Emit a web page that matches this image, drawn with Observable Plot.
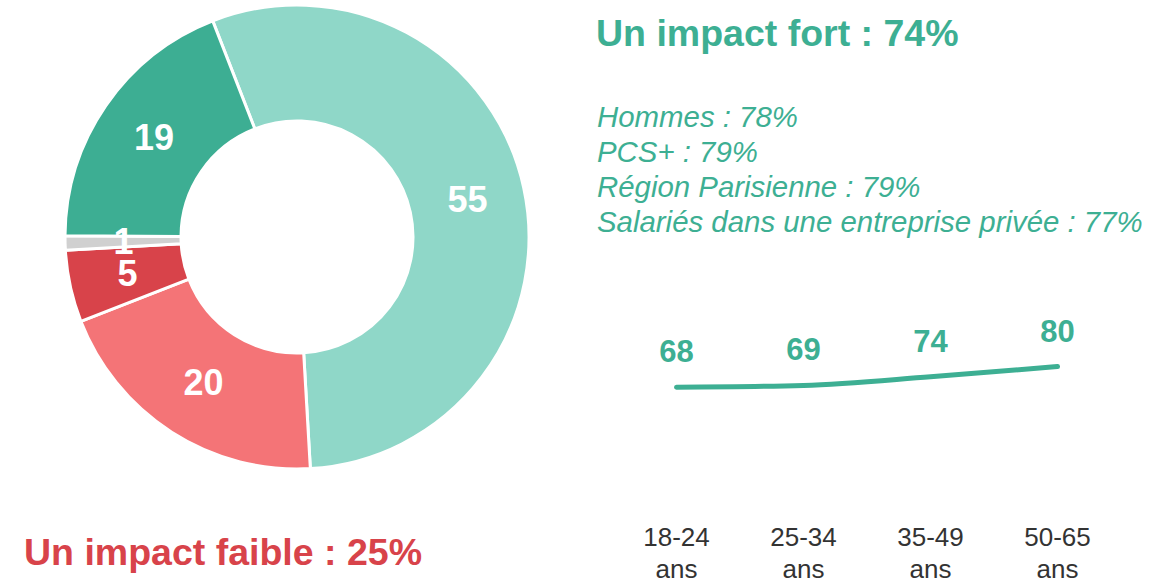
<!DOCTYPE html>
<html>
<head>
<meta charset="utf-8">
<script src="https://cdn.jsdelivr.net/npm/d3@7"></script>
<script src="https://cdn.jsdelivr.net/npm/@observablehq/plot@0.6"></script>
<style>
  body { margin: 0; background: #fff; font-family: "Liberation Sans", Arial, sans-serif; }
  #root { position: relative; width: 1168px; height: 580px; overflow: hidden; }
  .abs { position: absolute; white-space: nowrap; }
  #fort { left: 596px; top: 15px; font-size: 37.5px; line-height: 37px; font-weight: bold; color: #3daf93; }
  #faible { left: 24px; top: 534px; font-size: 37.5px; line-height: 37px; font-weight: bold; color: #d8434a; }
  #details { left: 597px; top: 99px; font-size: 29.4px; line-height: 35px; font-style: italic; color: #3daf93; }
  #donut { left: 0; top: 0; }
  #line { left: 600px; top: 280px; }
</style>
</head>
<body>
<div id="root">
  <div id="fort" class="abs"></div>
  <div id="details" class="abs"></div>
  <div id="donut" class="abs"></div>
  <div id="line" class="abs"></div>
  <div id="faible" class="abs"></div>
</div>
<script>
// ---- Data ----
const categories = ["Assez fort", "Assez faible", "Très faible", "Ne sait pas", "Très fort"];
const values = [55, 20, 5, 1, 19];
const colors = ["#8fd7c8", "#f47477", "#d8434a", "#d0d0d0", "#3dae93"];

const ages = ["18-24 ans", "25-34 ans", "35-49 ans", "50-65 ans"];
const ageValues = [68, 69, 74, 80];

const titleFort = "Un impact fort : 74%";
const titleFaible = "Un impact faible : 25%";
const detailLines = [
  "Hommes : 78%",
  "PCS+ : 79%",
  "Région Parisienne : 79%",
  "Salariés dans une entreprise privée : 77%"
];

// ---- Text ----
document.getElementById("fort").textContent = titleFort;
document.getElementById("faible").textContent = titleFaible;
document.getElementById("details").innerHTML = detailLines.map(s => `<div>${s}</div>`).join("");

const font = '"Liberation Sans", Arial, sans-serif';

// ---- Donut ----
const sliceData = categories.map((c, i) => ({category: c, value: values[i], color: colors[i]}));
const cx = 297, cy = 237, rOuter = 232, rInner = 116;
const startDeg = -21.3;
const pie = d3.pie().sort(null).value(d => d.value)
  .startAngle(startDeg * Math.PI / 180)
  .endAngle((startDeg + 360) * Math.PI / 180);
const arcs = pie(sliceData);
const arcGen = d3.arc().innerRadius(rInner).outerRadius(rOuter);

const donut = Plot.plot({
  width: 600,
  height: 480,
  margin: 0,
  x: {domain: [0, 600], range: [0, 600], axis: null},
  y: {domain: [0, 480], range: [0, 480], axis: null},
  style: {fontFamily: font, background: "transparent"},
  marks: [
    (index, scales) => {
      const g = d3.create("svg:g")
        .attr("transform", `translate(${scales.x(cx)},${scales.y(cy)})`);
      g.selectAll("path").data(arcs).join("path")
        .attr("d", arcGen)
        .attr("fill", d => d.data.color)
        .attr("stroke", "white")
        .attr("stroke-width", 3)
        .attr("stroke-linejoin", "round");
      return g.node();
    },
    Plot.text(arcs, {
      x: d => cx + arcGen.centroid(d)[0],
      y: d => cy + arcGen.centroid(d)[1],
      text: d => String(d.data.value),
      fill: "white",
      fontSize: 36,
      fontWeight: "bold"
    })
  ]
});
document.getElementById("donut").appendChild(donut);

// ---- Line by age ----
const ageData = ages.map((a, i) => ({age: a, value: ageValues[i]}));
const linePlot = Plot.plot({
  width: 568,
  height: 300,
  marginTop: 0,
  marginLeft: 0,
  marginRight: 0,
  marginBottom: 61,
  x: {type: "point", domain: ages, range: [75, 458], padding: 0},
  y: {domain: [68, 80], range: [106.7, 86], axis: null},
  style: {fontFamily: font, color: "#333", background: "transparent"},
  marks: [
    Plot.axisX({
      tickSize: 0,
      tickPadding: 3,
      fontSize: 26,
      lineHeight: 1.25,
      label: null,
      tickFormat: d => d.replace(" ", "\n")
    }),
    Plot.line(ageData, {
      x: "age", y: "value",
      stroke: "#3daf93", strokeWidth: 5, strokeLinecap: "round",
      curve: "monotone-x"
    }),
    Plot.text(ageData, {
      x: "age", y: "value",
      text: d => String(d.value),
      dy: -25,
      lineAnchor: "bottom",
      fill: "#3daf93",
      fontSize: 31,
      fontWeight: "bold"
    })
  ]
});
document.getElementById("line").appendChild(linePlot);
</script>
</body>
</html>
